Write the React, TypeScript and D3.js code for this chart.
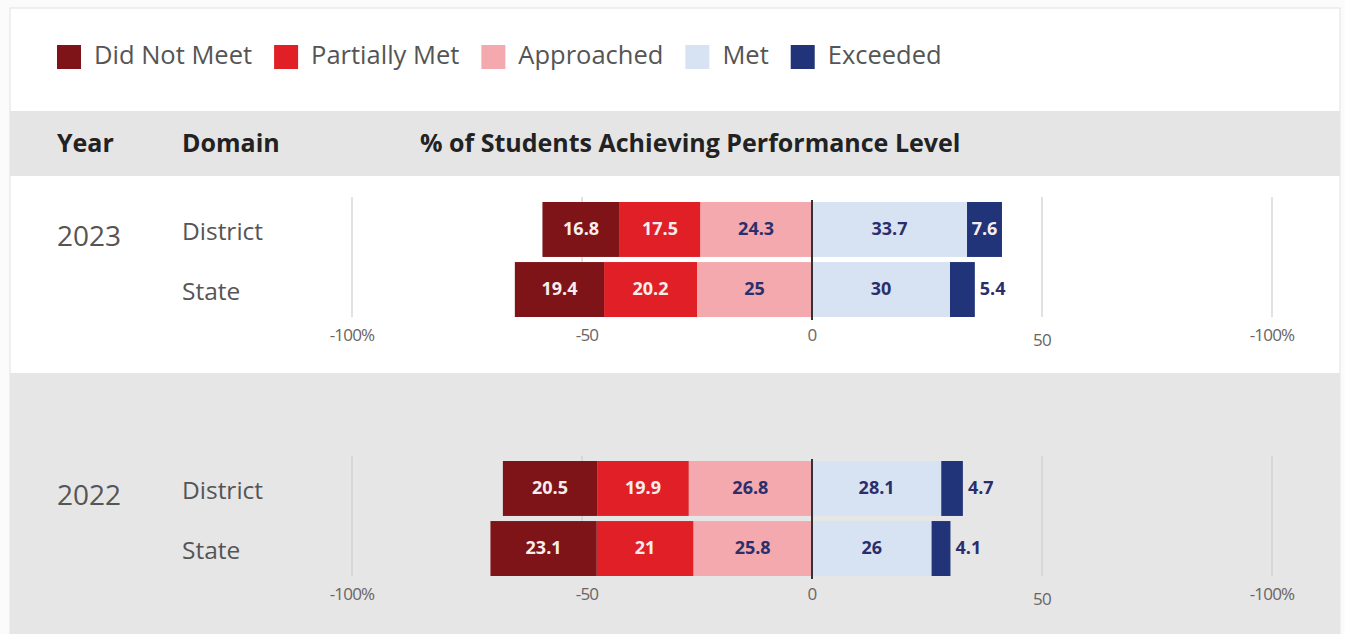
import * as d3 from "d3";
import * as React from "react";

// performance levels, left to right
const categories = ["Did Not Meet", "Partially Met", "Approached", "Met", "Exceeded"];
const colors = ["#7e1417", "#e01f27", "#f4a9ae", "#d7e3f2", "#223479"];

const years = ["2023", "2022"];
const domains = ["District", "State"];

// one value per row: 2023 District, 2023 State, 2022 District, 2022 State
const didNotMeet = [16.8, 19.4, 20.5, 23.1];
const partiallyMet = [17.5, 20.2, 19.9, 21];
const approached = [24.3, 25, 26.8, 25.8];
const met = [33.7, 30, 28.1, 26];
const exceeded = [7.6, 5.4, 4.7, 4.1];

const tickValues = [-100, -50, 0, 50, 100];
const tickLabels = ["-100%", "-50", "0", "50", "-100%"];

const FONT = "'Open Sans', Lato, sans-serif";

class DivergingChart extends React.Component {
  constructor(props) {
    super(props);
    this.myRef = React.createRef();
  }

  componentDidMount() {
    const width = 1345;
    const height = 634;

    const svg = d3.select(this.myRef.current);
    svg.selectAll("*").remove();
    svg.attr("width", width).attr("height", height).attr("viewBox", [0, 0, width, height]);

    // backgrounds
    svg.append("rect").attr("width", width).attr("height", height).attr("fill", "#fbfbfb");
    svg.append("rect")
      .attr("x", 10).attr("y", 8).attr("width", 1330).attr("height", 640)
      .attr("fill", "#ffffff").attr("stroke", "#e2e2e2");
    svg.append("rect").attr("x", 10).attr("y", 111).attr("width", 1330).attr("height", 65).attr("fill", "#e5e5e5");
    svg.append("rect").attr("x", 10).attr("y", 373).attr("width", 1330).attr("height", 270).attr("fill", "#e6e6e6");

    // legend
    const legend = svg.append("g").attr("font-family", FONT).attr("font-size", 25.5);
    let lx = 57;
    categories.forEach((c, i) => {
      legend.append("rect")
        .attr("x", lx).attr("y", 45).attr("width", 24).attr("height", 24)
        .attr("fill", colors[i]);
      const t = legend.append("text")
        .attr("x", lx + 37).attr("y", 57)
        .attr("dominant-baseline", "middle")
        .attr("fill", "#555")
        .text(c);
      lx += 37 + t.node().getComputedTextLength() + 22;
    });

    // header
    const header = svg.append("g")
      .attr("font-family", FONT).attr("font-size", 25).attr("font-weight", "bold")
      .attr("fill", "#222");
    header.append("text").attr("x", 57).attr("y", 145).attr("dominant-baseline", "middle").text("Year");
    header.append("text").attr("x", 182).attr("y", 145).attr("dominant-baseline", "middle").text("Domain");
    header.append("text").attr("x", 420).attr("y", 145).attr("dominant-baseline", "middle")
      .text("% of Students Achieving Performance Level");

    const x = d3.scaleLinear().domain([-100, 100]).range([352, 1272]);

    const rows = d3.scaleBand().domain(domains).range([0, 115]).paddingInner(0.085);

    const yearTop = { "2023": 202, "2022": 461 };

    const series = [didNotMeet, partiallyMet, approached, met, exceeded];

    years.forEach((year, yi) => {
      const top = yearTop[year];
      const g = svg.append("g").attr("transform", `translate(0,${top})`);

      // gridlines
      g.append("g")
        .selectAll("line")
        .data(tickValues.filter(v => v !== 0))
        .join("line")
        .attr("x1", d => x(d)).attr("x2", d => x(d))
        .attr("y1", -5).attr("y2", 115)
        .attr("stroke", "#cfcccc").attr("stroke-width", 1.2);

      // tick labels
      g.append("g")
        .attr("font-family", FONT).attr("font-size", 17).attr("fill", "#6a6464")
        .attr("letter-spacing", -0.8)
        .selectAll("text")
        .data(tickValues)
        .join("text")
        .attr("x", d => x(d) + (d === -50 ? 5 : 0))
        .attr("y", d => (d === 50 ? 139 : 134))
        .attr("text-anchor", "middle")
        .attr("dominant-baseline", "middle")
        .text((d, i) => tickLabels[i]);

      // year label
      g.append("text")
        .attr("x", 57).attr("y", rows("District") + rows.bandwidth() / 2 + 9)
        .attr("dominant-baseline", "middle")
        .attr("font-family", FONT).attr("font-size", 28).attr("fill", "#555")
        .text(year);

      domains.forEach((dom, di) => {
        const idx = yi * 2 + di;
        const y0 = rows(dom);
        const bh = rows.bandwidth();
        const cy = y0 + bh / 2;

        g.append("text")
          .attr("x", 182).attr("y", cy + 4)
          .attr("dominant-baseline", "middle")
          .attr("font-family", FONT).attr("font-size", 24.5).attr("fill", "#555")
          .text(dom);

        // stack: negatives go left from 0 (Approached nearest), positives right
        const segs = [];
        let neg = 0;
        for (let k = 2; k >= 0; k--) {
          const v = series[k][idx];
          segs.push({ k, v, a: neg - v, b: neg });
          neg -= v;
        }
        let pos = 0;
        for (let k = 3; k < 5; k++) {
          const v = series[k][idx];
          segs.push({ k, v, a: pos, b: pos + v });
          pos += v;
        }

        const bar = g.append("g");
        bar.selectAll("rect")
          .data(segs)
          .join("rect")
          .attr("x", d => x(d.a))
          .attr("y", y0)
          .attr("width", d => x(d.b) - x(d.a))
          .attr("height", bh)
          .attr("fill", d => colors[d.k]);

        bar.selectAll("text")
          .data(segs)
          .join("text")
          .attr("x", d => {
            const w = x(d.b) - x(d.a);
            if (w < 30) return x(d.b) + 5;
            return (x(d.a) + x(d.b)) / 2;
          })
          .attr("y", cy + 1)
          .attr("text-anchor", d => (x(d.b) - x(d.a) < 30 ? "start" : "middle"))
          .attr("dominant-baseline", "middle")
          .attr("font-family", FONT).attr("font-size", 18).attr("font-weight", "bold")
          .attr("fill", d => {
            const w = x(d.b) - x(d.a);
            if (w < 30) return "#2b2e6c";
            return d.k === 0 || d.k === 1 || d.k === 4 ? "#f8eded" : "#2b2e6c";
          })
          .text(d => d.v);
      });

      // zero line
      g.append("line")
        .attr("x1", x(0)).attr("x2", x(0))
        .attr("y1", -2).attr("y2", 118)
        .attr("stroke", "#333").attr("stroke-width", 2);
    });
  }

  render() {
    return (
      <svg ref={this.myRef} style={{ position: "absolute", left: 0, top: 0, display: "block" }}></svg>
    );
  }
}

export default function App() {
  return <DivergingChart />;
}
